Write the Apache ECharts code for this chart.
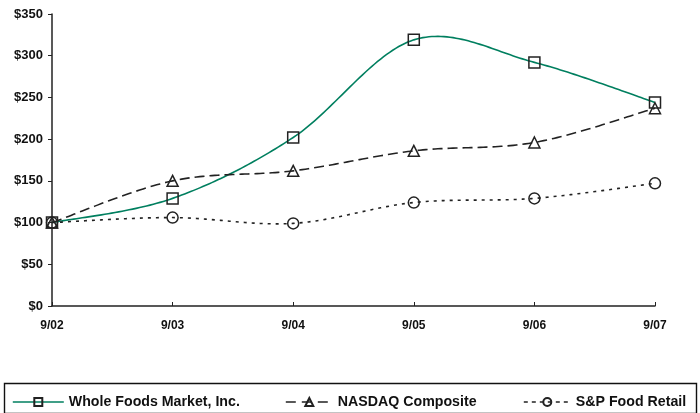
<!DOCTYPE html>
<html><head><meta charset="utf-8">
<script src="https://cdn.jsdelivr.net/npm/echarts@6/dist/echarts.min.js"></script>
<style>html,body{margin:0;padding:0;background:#fff}#c{width:700px;height:413px}</style>
</head><body><div id="c"></div>
<script>
var categories = ['9/02','9/03','9/04','9/05','9/06','9/07'];
var wholeFoods = [100, 129, 202, 319, 292, 244];
var nasdaq = [100, 150, 162, 186, 196, 237];
var spFood = [100, 106, 99, 124, 129, 147];
var yTicks = [0, 50, 100, 150, 200, 250, 300, 350];

var font = 'Liberation Sans, Arial, Helvetica, sans-serif';
var chart = echarts.init(document.getElementById('c'), null, {renderer: 'canvas'});
var symStyle = {color: 'rgba(0,0,0,0)', borderColor: '#222', borderWidth: 1.5};
var legendText = {fontFamily: font, fontWeight: 'bold', fontSize: 14.2, color: '#111'};

// Excel-like smoothing (Catmull-Rom, 1/6 tension) drawn via the axes' coordinate system
function smoothSeries(name, values, lineStyle) {
  return {
    type: 'custom', name: name + ' curve', silent: true, z: 1,
    data: values.map(function (v, i) { return [i, v]; }),
    renderItem: function (params, api) {
      if (params.dataIndex !== 0) return null;
      var pts = values.map(function (v, i) { return api.coord([i, v]); });
      var out = [];
      var n = pts.length;
      for (var i = 0; i < n - 1; i++) {
        var p0 = pts[Math.max(i - 1, 0)], p1 = pts[i], p2 = pts[i + 1], p3 = pts[Math.min(i + 2, n - 1)];
        var c1 = [p1[0] + (p2[0] - p0[0]) / 6, p1[1] + (p2[1] - p0[1]) / 6];
        var c2 = [p2[0] - (p3[0] - p1[0]) / 6, p2[1] - (p3[1] - p1[1]) / 6];
        for (var k = (i === 0 ? 0 : 1); k <= 40; k++) {
          var t = k / 40, u = 1 - t;
          out.push([
            u*u*u*p1[0] + 3*u*u*t*c1[0] + 3*u*t*t*c2[0] + t*t*t*p2[0],
            u*u*u*p1[1] + 3*u*u*t*c1[1] + 3*u*t*t*c2[1] + t*t*t*p2[1]
          ]);
        }
      }
      return {type: 'polyline', shape: {points: out},
        style: {fill: null, stroke: lineStyle.color, lineWidth: lineStyle.width, lineDash: lineStyle.dash || null}};
    }
  };
}

var greenLine = {color: '#007f5f', width: 1.6};
var dashLine = {color: '#222', width: 1.6, dash: [10, 5]};
var dotLine = {color: '#222', width: 1.6, dash: [3, 5]};

chart.setOption({
  animation: false,
  grid: {left: 52, right: 45, top: 14, bottom: 107},
  xAxis: {
    type: 'category', data: categories, boundaryGap: false,
    axisLine: {lineStyle: {color: '#222', width: 1.5}},
    axisTick: {inside: true, length: 4, lineStyle: {color: '#222'}},
    axisLabel: {fontFamily: font, fontWeight: 'bold', fontSize: 12, color: '#111', margin: 14, interval: 0}
  },
  yAxis: {
    type: 'value', min: yTicks[0], max: yTicks[yTicks.length - 1], interval: 50,
    splitLine: {show: false},
    axisLine: {show: true, lineStyle: {color: '#222', width: 1.5}},
    axisTick: {show: true, length: 4, lineStyle: {color: '#222'}},
    axisLabel: {fontFamily: font, fontWeight: 'bold', fontSize: 13, color: '#111', margin: 9,
      formatter: function (v) { return '$' + v; }}
  },
  graphic: [{type: 'rect', left: 2, top: 381, shape: {width: 692, height: 30},
    style: {fill: 'none', stroke: '#111', lineWidth: 1.4}, z: -1}],
  legend: [
    {data: ['Whole Foods Market, Inc.'], left: 12, top: 395, padding: 0, itemWidth: 51, itemHeight: 10, textStyle: legendText,
      lineStyle: {color: '#007f5f', width: 1.6, type: 'solid', opacity: 1}},
    {data: ['NASDAQ Composite'], left: 285, top: 395, padding: 0, itemWidth: 47, itemHeight: 10, textStyle: legendText,
      lineStyle: {color: '#222', width: 1.6, type: [10, 6], opacity: 1}},
    {data: ['S&P Food Retail'], left: 523, top: 395, padding: 0, itemWidth: 47, itemHeight: 10, textStyle: legendText,
      lineStyle: {color: '#222', width: 1.6, type: [4, 4], opacity: 1}}
  ],
  series: [
    smoothSeries('Whole Foods Market, Inc.', wholeFoods, greenLine),
    smoothSeries('NASDAQ Composite', nasdaq, dashLine),
    smoothSeries('S&P Food Retail', spFood, dotLine),
    {name: 'Whole Foods Market, Inc.', type: 'line', data: wholeFoods,
      symbol: 'rect', symbolSize: 11, lineStyle: {color: '#007f5f', width: 1.6, opacity: 0},
      itemStyle: symStyle, z: 5},
    {name: 'NASDAQ Composite', type: 'line', data: nasdaq,
      symbol: 'triangle', symbolSize: 11, lineStyle: {color: '#222', width: 1.6, opacity: 0},
      itemStyle: symStyle, z: 5},
    {name: 'S&P Food Retail', type: 'line', data: spFood,
      symbol: 'circle', symbolSize: 11, lineStyle: {color: '#222', width: 1.6, opacity: 0},
      itemStyle: symStyle, z: 5}
  ]
});
</script></body></html>
